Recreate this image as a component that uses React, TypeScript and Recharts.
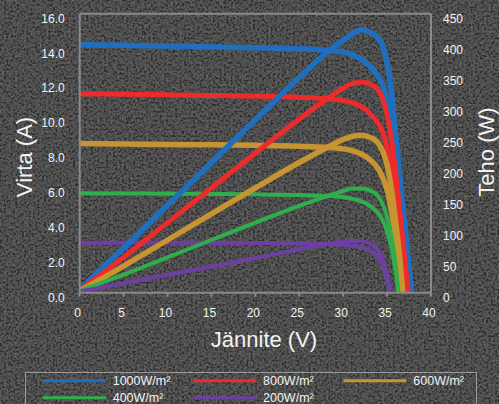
import React from 'react';
import { LineChart, Line, XAxis, YAxis, ReferenceLine, Legend } from 'recharts';

const FONT = '"Liberation Sans", Arial, sans-serif';
const AXIS_GRAY = '#8a8a8a';
const TEXT = '#f2f2f2';

const X_TICKS = [0, 5, 10, 15, 20, 25, 30, 35, 40];
const AMP_TICKS = [0, 2, 4, 6, 8, 10, 12, 14, 16];
const WATT_TICKS = [0, 50, 100, 150, 200, 250, 300, 350, 400, 450];

const IRRADIANCE = ['1000W/m²', '800W/m²', '600W/m²', '400W/m²', '200W/m²'];
const COLORS = ['#1F6FC0', '#EE2B2B', '#C69430', '#2EAF4B', '#6E3FA3'];
const WIDTHS = [5.5, 5, 5.5, 4, 4];

// voltage (V), current (A), power (W)
const VOLT_1000 = [0, 5, 10, 15, 20, 25, 28, 30, 31, 32, 33, 34, 34.5, 35, 35.5, 36, 36.5, 37, 37.5, 37.8];
const AMP_1000 = [14.23, 14.19, 14.15, 14.1, 14.05, 13.98, 13.9, 13.8, 13.65, 13.4, 13.0, 12.4, 11.9, 11.0, 9.7, 7.8, 5.6, 3.4, 1.3, 0];
const WATT_1000 = [5, 72, 141, 210, 279, 347, 386, 407, 417, 424, 421, 410, 398, 370, 325, 250, 180, 110, 42, 0];

const VOLT_800 = [0, 5, 10, 15, 20, 25, 28, 30, 31, 32, 33, 34, 34.5, 35, 35.5, 36, 36.5, 37, 37.4];
const AMP_800 = [11.41, 11.38, 11.35, 11.31, 11.27, 11.2, 11.12, 11.02, 10.9, 10.68, 10.3, 9.7, 9.2, 8.3, 7.0, 5.3, 3.4, 1.5, 0];
const WATT_800 = [4, 57, 113, 169, 225, 280, 311, 330, 337, 340, 337, 326, 313, 287, 246, 190, 124, 55, 0];

const VOLT_600 = [0, 5, 10, 15, 20, 25, 28, 30, 31, 32, 33, 34, 34.5, 35, 35.5, 36, 36.5, 36.8];
const AMP_600 = [8.55, 8.53, 8.5, 8.48, 8.45, 8.4, 8.34, 8.25, 8.15, 7.97, 7.65, 7.1, 6.6, 5.9, 4.7, 3.1, 1.3, 0];
const WATT_600 = [3, 43, 85, 127, 169, 210, 233, 247, 252, 254, 251, 241, 228, 206, 167, 112, 48, 0];

const VOLT_400 = [0, 5, 10, 15, 20, 25, 28, 30, 31, 32, 33, 34, 34.5, 35, 35.5, 36, 36.3];
const AMP_400 = [5.7, 5.69, 5.68, 5.66, 5.64, 5.6, 5.55, 5.48, 5.4, 5.25, 5.0, 4.55, 4.15, 3.5, 2.55, 1.1, 0];
const WATT_400 = [3, 29, 57, 85, 113, 140, 155, 164, 168, 168, 165, 155, 143, 122, 90, 40, 0];

const VOLT_200 = [0, 5, 10, 15, 20, 25, 28, 30, 31, 32, 33, 34, 34.5, 35, 35.3];
const AMP_200 = [2.87, 2.865, 2.86, 2.855, 2.85, 2.83, 2.8, 2.75, 2.7, 2.6, 2.42, 2.0, 1.55, 0.8, 0];
const WATT_200 = [2, 15, 29, 42, 56, 70, 78, 82, 83.5, 83, 80, 68, 53, 28, 0];

const SERIES = [
  { volts: VOLT_1000, amps: AMP_1000, watts: WATT_1000 },
  { volts: VOLT_800, amps: AMP_800, watts: WATT_800 },
  { volts: VOLT_600, amps: AMP_600, watts: WATT_600 },
  { volts: VOLT_400, amps: AMP_400, watts: WATT_400 },
  { volts: VOLT_200, amps: AMP_200, watts: WATT_200 },
].map((s, i) => ({
  name: IRRADIANCE[i],
  color: COLORS[i],
  width: WIDTHS[i],
  rows: s.volts.map((v, j) => ({ v, amp: s.amps[j], watt: s.watts[j] })),
}));

const LeftTick = ({ x, y, payload }: any) => (
  <text x={x} y={y + 9} textAnchor="end" fill={TEXT} fontSize={12} fontFamily={FONT}>
    {Number(payload.value).toFixed(1)}
  </text>
);

const RightTick = ({ x, y, payload }: any) => (
  <text x={x} y={y + 9} textAnchor="start" fill={TEXT} fontSize={12} fontFamily={FONT}>
    {payload.value}
  </text>
);

const BottomTick = ({ x, y, payload }: any) => (
  <text x={x - 2} y={y + 20} textAnchor="middle" fill={TEXT} fontSize={12} fontFamily={FONT}>
    {payload.value}
  </text>
);

const LegendBox = () => (
  <svg width={452} height={40} style={{ display: 'block', overflow: 'visible' }}>
    <rect x={0.5} y={0.5} width={451} height={45} fill="none" stroke="#9a9a9a" strokeWidth={1} />
    {SERIES.map((s, i) => {
      const col = i % 3;
      const row = Math.floor(i / 3);
      const lx = 17.7 + col * 150.3;
      const ly = 8.7 + row * 17;
      return (
        <g key={s.name}>
          <line x1={lx} x2={lx + 63.3} y1={ly} y2={ly} stroke={s.color} strokeWidth={3} />
          <text x={lx + 70} y={ly + 4.5} fill={TEXT} fontSize={12.5} fontFamily={FONT}>
            {s.name}
          </text>
        </g>
      );
    })}
  </svg>
);

export default function App() {
  return (
    <div style={{ position: 'fixed', left: 0, top: 0, width: 499, height: 404, overflow: 'hidden' }}>
      <svg width={499} height={404} style={{ position: 'absolute', left: 0, top: 0 }}>
        <defs>
          <filter id="granite" x="0" y="0" width="100%" height="100%">
            <feTurbulence type="fractalNoise" baseFrequency="0.45" numOctaves={2} seed={11} result="n" />
            <feColorMatrix
              in="n"
              type="matrix"
              values="1 1 1 0 -1.25  1 1 1 0 -1.25  1 1 1 0 -1.25  0 0 0 0 1"
            />
          </filter>
        </defs>
        <rect width={499} height={404} fill="#3e3e3e" />
        <rect width={499} height={404} filter="url(#granite)" opacity={0.22} />
      </svg>

      <div style={{ position: 'absolute', left: 0, top: 0 }}>
        <LineChart width={499} height={404} margin={{ top: 13.7, right: 8, bottom: 81.3, left: 19.7 }}>
          <XAxis
            type="number"
            dataKey="v"
            domain={[0, 40]}
            ticks={X_TICKS}
            height={30}
            axisLine={{ stroke: AXIS_GRAY, strokeWidth: 2 }}
            tickLine={{ stroke: AXIS_GRAY, strokeWidth: 2 }}
            tickSize={4}
            tickMargin={0}
            tick={<BottomTick />}
            allowDataOverflow
          />
          <YAxis
            yAxisId="left"
            domain={[0, 16]}
            ticks={AMP_TICKS}
            width={60}
            axisLine={{ stroke: AXIS_GRAY, strokeWidth: 2 }}
            tickLine={false}
            tickSize={0}
            tickMargin={15}
            tick={<LeftTick />}
            allowDataOverflow
          />
          <YAxis
            yAxisId="right"
            orientation="right"
            domain={[0, 450]}
            ticks={WATT_TICKS}
            width={60}
            axisLine={{ stroke: AXIS_GRAY, strokeWidth: 2 }}
            tickLine={false}
            tickSize={0}
            tickMargin={12}
            tick={<RightTick />}
            allowDataOverflow
          />
          <ReferenceLine yAxisId="left" y={16} stroke={AXIS_GRAY} strokeWidth={2} />
          {SERIES.map((s) => (
            <Line
              key={'iv-' + s.name}
              data={s.rows}
              dataKey="amp"
              yAxisId="left"
              type="monotone"
              stroke={s.color}
              strokeWidth={s.width}
              dot={false}
              activeDot={false}
              isAnimationActive={false}
              legendType="none"
            />
          ))}
          {SERIES.map((s) => (
            <Line
              key={'pv-' + s.name}
              data={s.rows}
              dataKey="watt"
              yAxisId="right"
              type="monotone"
              stroke={s.color}
              strokeWidth={s.width}
              dot={false}
              activeDot={false}
              isAnimationActive={false}
              legendType="none"
            />
          ))}
          <Legend
            layout="horizontal"
            verticalAlign="middle"
            align="center"
            wrapperStyle={{ left: 25, top: 372, width: 452, height: 40 }}
            content={() => <LegendBox />}
          />
        </LineChart>
      </div>

      <svg
        width={499}
        height={404}
        style={{ position: 'absolute', left: 0, top: 0, pointerEvents: 'none' }}
      >
        <text
          transform="translate(31.7,157) rotate(-90)"
          textAnchor="middle"
          fill={TEXT}
          fontSize={22}
          fontFamily={FONT}
        >
          Virta (A)
        </text>
        <text
          transform="translate(493.5,152) rotate(-90)"
          textAnchor="middle"
          fill={TEXT}
          fontSize={22}
          fontFamily={FONT}
        >
          Teho (W)
        </text>
        <text x={264} y={347} textAnchor="middle" fill={TEXT} fontSize={22} fontFamily={FONT}>
          Jännite (V)
        </text>
      </svg>
    </div>
  );
}
